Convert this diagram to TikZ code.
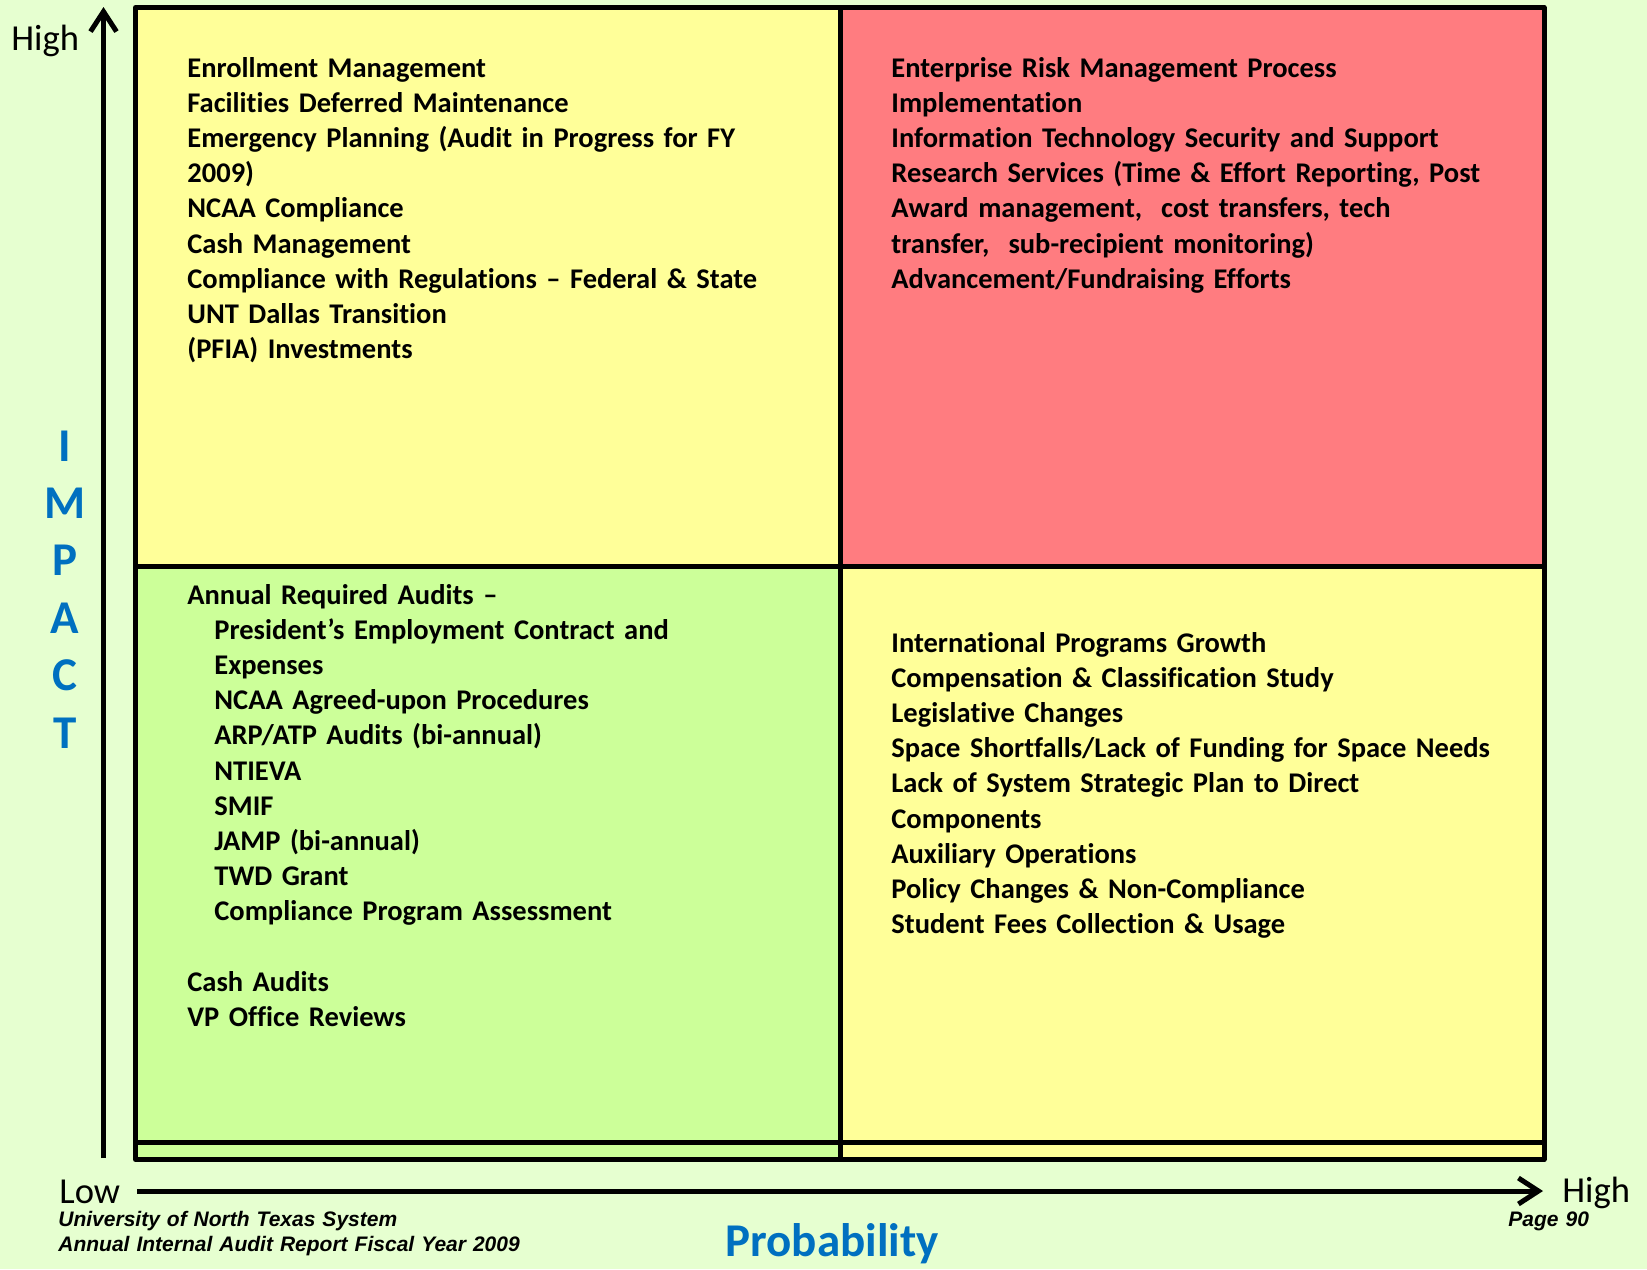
\documentclass[tikz,border=0pt]{standalone}
\usepackage{fontspec}
\setmainfont{Carlito}[Ligatures=CommonOff]
\newfontfamily\footfont{Liberation Sans}
\usetikzlibrary{arrows.meta}
\definecolor{pagebg}{HTML}{E6FFD0}
\definecolor{quadyellow}{HTML}{FFFF99}
\definecolor{quadgreen}{HTML}{CCFF99}
\definecolor{quadred}{HTML}{FF7C80}
\definecolor{axisblue}{HTML}{0070C0}
\setlength\parindent{0pt}
\newcommand{\auditindent}{\hspace*{13.5pt}}
\begin{document}
\begin{tikzpicture}[x=0.5pt,y=-0.5pt,
  gridline/.style={line width=2.5pt, line join=round},
  axisline/.style={line width=2.5pt, -{Straight Barb[length=10pt,width=13pt]}},
  quadtext/.style={anchor=base west, inner sep=0pt, text width=350pt, align=left,
    font=\bfseries\fontsize{14.25pt}{17.6pt}\selectfont},
  levellabel/.style={anchor=base west, inner sep=0pt, font=\fontsize{18.3pt}{22pt}\selectfont},
  axistitle/.style={inner sep=0pt, text=axisblue, font=\bfseries\fontsize{23.5pt}{28.7pt}\selectfont},
  foottext/.style={anchor=base west, inner sep=0pt, text width=300pt, align=left,
    font=\footfont\bfseries\itshape\fontsize{10.5pt}{12.5pt}\selectfont}]

% page and bounding box
\useasboundingbox (0,0) rectangle (1647,1269);
\fill[pagebg] (0,0) rectangle (1647,1269);

% quadrant fills
\fill[quadyellow] (135.5,7.5) rectangle (840,566);
\fill[quadred]    (840,7.5)   rectangle (1544,566);
\fill[quadgreen]  (135.5,566) rectangle (840,1159.5);
\fill[quadyellow] (840,566)   rectangle (1544,1159.5);

% frame and dividers
\draw[gridline] (135.5,7.5) rectangle (1544,1159.5);
\draw[gridline] (840,7.5) -- (840,1159.5);
\draw[gridline] (135.5,566) -- (1544,566);
\draw[gridline] (135.5,1142.5) -- (1544,1142.5);

% axes
\coordinate (ybot) at (103.5,1158);
\coordinate (ytop) at (103.5,7);
\coordinate (xleft) at (137,1191);
\coordinate (xright) at (1543,1191);
\draw[axisline] (ybot) -- (ytop);
\draw[axisline] (xleft) -- (xright);

% axis labels
\node[levellabel] (impacthigh) at (11,50) {High};
\node[levellabel] (problow) at (59,1203) {Low};
\node[levellabel] (probhigh) at (1562,1202) {High};
\node[axistitle, anchor=base, text width=40pt, align=center] (impact) at (65,461)
  {I\\M\\P\\A\\C\\T};
\node[axistitle, anchor=base] (probability) at (832,1256) {Probability};

% quadrant contents
\node[quadtext] (tl) at (187,77) {Enrollment Management\\
Facilities Deferred Maintenance\\
Emergency Planning (Audit in Progress for FY\\
2009)\\
NCAA Compliance\\
Cash Management\\
Compliance with Regulations – Federal \& State\\
UNT Dallas Transition\\
(PFIA) Investments};

\node[quadtext] (tr) at (891,77) {Enterprise Risk Management Process\\
Implementation\\
Information Technology Security and Support\\
Research Services (Time \& Effort Reporting, Post\\
Award management,\ \ cost transfers, tech\\
transfer,\ \ sub-recipient monitoring)\\
Advancement/Fundraising Efforts};

\node[quadtext] (bl) at (187,604) {Annual Required Audits –\\
\auditindent President’s Employment Contract and\\
\auditindent Expenses\\
\auditindent NCAA Agreed-upon Procedures\\
\auditindent ARP/ATP Audits (bi-annual)\\
\auditindent NTIEVA\\
\auditindent SMIF\\
\auditindent JAMP (bi-annual)\\
\auditindent TWD Grant\\
\auditindent Compliance Program Assessment\\
\mbox{}\\
Cash Audits\\
VP Office Reviews};

\node[quadtext] (br) at (891,652) {International Programs Growth\\
Compensation \& Classification Study\\
Legislative Changes\\
Space Shortfalls/Lack of Funding for Space Needs\\
Lack of System Strategic Plan to Direct\\
Components\\
Auxiliary Operations\\
Policy Changes \& Non-Compliance\\
Student Fees Collection \& Usage};

% footer
\node[foottext] (footleft) at (58,1226) {University of North Texas System\\
Annual Internal Audit Report Fiscal Year 2009};
\node[foottext] (footright) at (1508,1226) {Page 90};
\end{tikzpicture}
\end{document}
